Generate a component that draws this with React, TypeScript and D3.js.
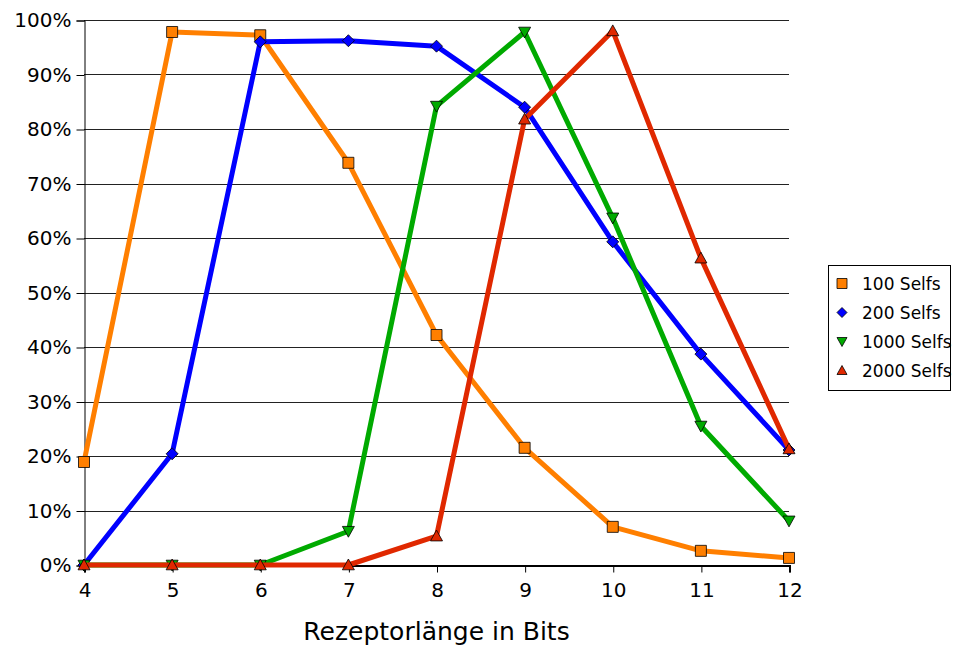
import React, { useEffect, useRef } from 'react';
import * as d3 from 'd3';

const bits = [4, 5, 6, 7, 8, 9, 10, 11, 12];
const selfs100 = [18.9, 97.8, 97.2, 73.8, 42.2, 21.5, 7.0, 2.6, 1.3];
const selfs200 = [0, 20.4, 96.0, 96.2, 95.2, 84.0, 59.3, 38.7, 21.1];
const selfs1000 = [0, 0, 0, 6.2, 84.2, 97.8, 63.7, 25.5, 8.1];
const selfs2000 = [0, 0, 0, 0, 5.3, 81.8, 98.0, 56.3, 21.3];
const seriesNames = ['100 Selfs', '200 Selfs', '1000 Selfs', '2000 Selfs'];
const yTicks = [0, 10, 20, 30, 40, 50, 60, 70, 80, 90, 100];

const colors = ['#FF7F00', '#0000FF', '#00AA00', '#E02800'];
const shapes = ['square', 'diamond', 'down', 'up'];

const App: React.FC = () => {
  const svgRef = useRef<SVGSVGElement>(null);

  useEffect(() => {
    document.body.style.margin = '0';
    document.body.style.overflow = 'hidden';
    if (!svgRef.current) return;
    const svg = d3.select(svgRef.current);
    svg.selectAll('*').remove();

    const font = '"DejaVu Sans", Verdana, sans-serif';
    const left = 84, right = 789, top = 20, bottom = 565;

    const x = d3.scaleLinear().domain([4, 12]).range([left, right]);
    const y = d3.scaleLinear().domain([0, 100]).range([bottom, top]);

    // Gridlines
    svg.append('g')
      .selectAll('line')
      .data(yTicks.filter(t => t > 0))
      .join('line')
      .attr('x1', left).attr('x2', right)
      .attr('y1', d => Math.round(y(d)) + 0.5).attr('y2', d => Math.round(y(d)) + 0.5)
      .attr('stroke', '#222').attr('stroke-width', 1);

    // Y axis
    const yAxis = svg.append('g').attr('transform', `translate(${left + 0.5},0.5)`)
      .call(d3.axisLeft(y).tickValues(yTicks).tickFormat(d => `${d}%`).tickSize(8).tickPadding(5));
    yAxis.select('.domain').attr('stroke', '#000');
    yAxis.selectAll('line').attr('stroke', '#000');
    yAxis.selectAll('text').attr('font-family', font).attr('font-size', 20).attr('fill', '#000');

    // X axis
    const xAxis = svg.append('g').attr('transform', `translate(0.5,${bottom + 0.5})`)
      .call(d3.axisBottom(x).tickValues(bits).tickFormat(d3.format('d')).tickSize(7).tickPadding(10));
    xAxis.select('.domain').attr('stroke', '#000').attr('stroke-width', 2);
    xAxis.selectAll('line').attr('stroke', '#000');
    xAxis.selectAll('text').attr('font-family', font).attr('font-size', 20).attr('fill', '#000');

    svg.append('text')
      .attr('x', (left + right) / 2).attr('y', 640)
      .attr('text-anchor', 'middle')
      .attr('font-family', font).attr('font-size', 25)
      .text('Rezeptorlänge in Bits');

    const symbolPath = (shape: string, s: number) => {
      if (shape === 'square') return `M${-s},${-s}h${2 * s}v${2 * s}h${-2 * s}Z`;
      if (shape === 'diamond') return `M0,${-s}L${s},0L0,${s}L${-s},0Z`;
      if (shape === 'down') return `M${-s},${-s * 0.8}L${s},${-s * 0.8}L0,${s}Z`;
      return `M${-s},${s * 0.8}L${s},${s * 0.8}L0,${-s}Z`;
    };

    const allSeries = [selfs100, selfs200, selfs1000, selfs2000];
    const line = d3.line<number>().x((_, i) => x(bits[i])).y(d => y(d));

    allSeries.forEach((vals, si) => {
      svg.append('path')
        .datum(vals)
        .attr('d', line)
        .attr('fill', 'none')
        .attr('stroke', colors[si])
        .attr('stroke-width', 5)
        .attr('stroke-linejoin', 'round');
      svg.append('g')
        .selectAll('path')
        .data(vals)
        .join('path')
        .attr('transform', (d, i) => `translate(${x(bits[i])},${y(d)})`)
        .attr('d', symbolPath(shapes[si], si === 0 ? 5.5 : 6))
        .attr('fill', colors[si])
        .attr('stroke', '#000')
        .attr('stroke-width', 0.8);
    });

    // Legend
    const lg = svg.append('g').attr('transform', 'translate(828,265)');
    lg.append('rect')
      .attr('x', 0.5).attr('y', 0.5).attr('width', 122).attr('height', 125)
      .attr('fill', '#fff').attr('stroke', '#000');
    seriesNames.forEach((name, i) => {
      const cy = 18.5 + i * 29;
      lg.append('path')
        .attr('transform', `translate(14,${cy})`)
        .attr('d', symbolPath(shapes[i], 5))
        .attr('fill', colors[i])
        .attr('stroke', '#000')
        .attr('stroke-width', 0.8);
      lg.append('text')
        .attr('x', 34).attr('y', cy + 6)
        .attr('font-family', font).attr('font-size', 17)
        .text(name);
    });
  }, []);

  return <svg ref={svgRef} width={953} height={646} style={{ display: 'block', position: 'absolute', left: 0, top: 0 }} />;
};

export default App;
